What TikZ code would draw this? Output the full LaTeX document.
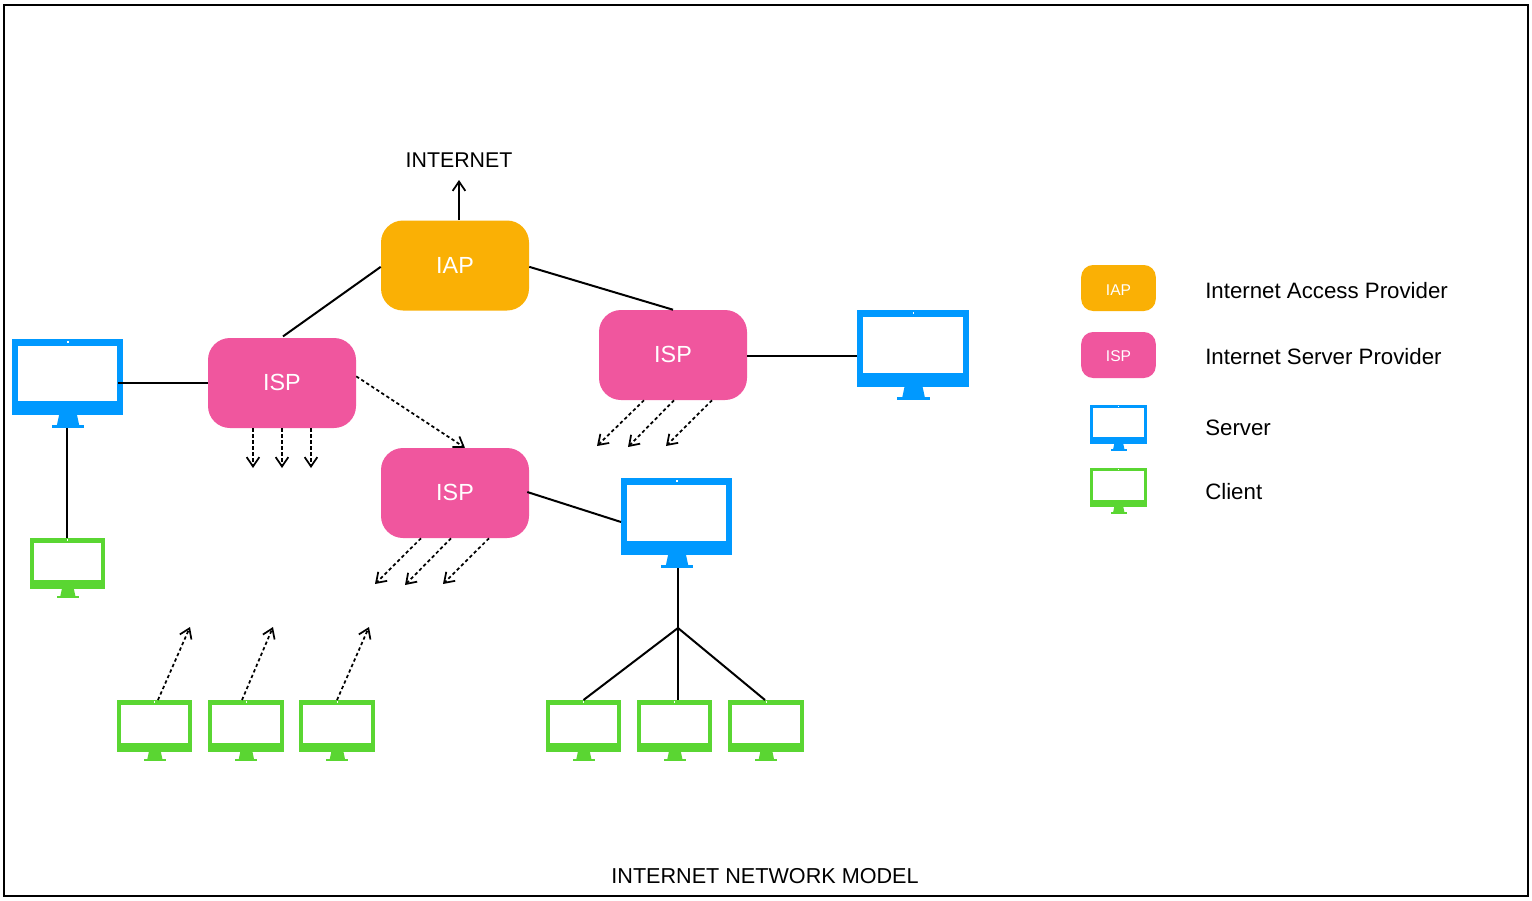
\documentclass[tikz,border=0pt]{standalone}
\usepackage{fontspec}
\setmainfont{Liberation Sans}
\usetikzlibrary{arrows.meta}
\definecolor{iapc}{HTML}{FAB005}
\definecolor{ispc}{HTML}{F0569E}
\definecolor{srvc}{HTML}{0099FF}
\definecolor{cltc}{HTML}{5AD632}
\tikzset{
  provider/.style={rectangle,rounded corners=16.5pt,minimum width=111pt,minimum height=67.5pt,inner sep=0pt,text=white,font=\fontsize{17.5}{20}\selectfont},
  keybox/.style={rectangle,rounded corners=9pt,minimum width=56pt,minimum height=34.5pt,inner sep=0pt,text=white,font=\fontsize{11.7}{14}\selectfont},
  caption/.style={inner sep=0pt,font=\fontsize{16}{18}\selectfont},
  titletext/.style={inner sep=0pt,font=\fontsize{16.2}{18}\selectfont},
  keytext/.style={inner sep=0pt,anchor=west,font=\fontsize{16.7}{20}\selectfont},
  iconbox/.style={rectangle,inner sep=0pt,outer sep=0pt},
  link/.style={line width=1.5pt,black},
  tipbarb/.style={-{Straight Barb[length=7pt,width=9.5pt,line width=1.3pt]}},
  uplink/.style={line width=1.5pt,black,tipbarb},
  flow/.style={line width=1.3pt,black,dash pattern=on 2.5pt off 2pt,tipbarb},
}
% name, left, top, width, height, colour
\newcommand{\monitoricon}[6]{%
  \node[iconbox,minimum width={#4*0.75pt},minimum height={#5*0.75pt}] (#1) at ({#2+#4/2},{#3+#5/2}) {};
  \begin{scope}[shift={(#2,#3)},x={(#4,0)},y={(0,#5)}]
    \fill[#6] (0,0) rectangle (1,.85);
    \fill[white] (.05,.075) rectangle (.95,.70);
    \fill[white] (.498,.02) rectangle (.512,.045);
    \fill[#6] (.425,.85) -- (.585,.85) -- (.605,.965) -- (.405,.965) -- cycle;
    \fill[#6] (.36,.965) rectangle (.65,1);
  \end{scope}}
\begin{document}
\begin{tikzpicture}[x=0.75pt,y=-0.75pt]
\useasboundingbox (0,0) rectangle (1532,900);
\fill[white] (0,0) rectangle (1532,900);
\node[rectangle,draw=black,line width=1.5pt,minimum width={1524*0.75pt},minimum height={891*0.75pt},inner sep=0pt] (frame) at (766,450.5) {};

% providers
\node[provider,fill=iapc] (iap) at (455,265.5) {\raisebox{0.75pt}{IAP}};
\node[provider,fill=ispc] (ispa) at (282,383) {\raisebox{1pt}{ISP}};
\node[provider,fill=ispc] (ispb) at (673,355) {\raisebox{0.75pt}{ISP}};
\node[provider,fill=ispc] (ispc) at (455,493) {\raisebox{1pt}{ISP}};

% servers
\monitoricon{srva}{12}{339}{111}{89}{srvc}
\monitoricon{srvb}{857}{310}{112}{90}{srvc}
\monitoricon{srvc}{621}{478}{111}{90}{srvc}

% clients
\monitoricon{clta}{30}{538}{75}{60}{cltc}
\monitoricon{cltb}{117}{700}{75}{61}{cltc}
\monitoricon{cltc}{208}{700}{76}{61}{cltc}
\monitoricon{cltd}{299}{700}{76}{61}{cltc}
\monitoricon{clte}{546}{700}{75}{61}{cltc}
\monitoricon{cltf}{637}{700}{75}{61}{cltc}
\monitoricon{cltg}{728}{700}{76}{61}{cltc}

% labels
\node[caption] (inet) at (459,160.5) {INTERNET};
\node[titletext] (title) at (765,876.5) {INTERNET NETWORK MODEL};

% free ends
\coordinate (hub) at (678,628);
\coordinate (up) at (459,180);
\coordinate (aa) at (253,468);
\coordinate (ab) at (282,468);
\coordinate (ac) at (311,468);
\coordinate (ba) at (597,446);
\coordinate (bb) at (628,447);
\coordinate (bc) at (666,446);
\coordinate (ca) at (375,584);
\coordinate (cb) at (405,585);
\coordinate (cc) at (443,584);
\coordinate (da) at (190,627);
\coordinate (db) at (273,627);
\coordinate (dc) at (369,627);

% solid links
\draw[uplink] (iap.north -| up) -- (up);
\draw[link] ([xshift=0.75pt,yshift=1pt]ispa.north) -- ([yshift=-1pt]iap.west);
\draw[link] ([yshift=-1pt]iap.east) -- (ispb.north);
\draw[link] ([xshift=-3.75pt]srva.east |- ispa.west) -- (ispa.west);
\draw[link] ([yshift=-0.75pt]ispb.east) -- ([yshift=-0.75pt]srvb.west);
\draw[link] ([xshift=-1.5pt,yshift=0.75pt]ispc.east) -- ([yshift=0.75pt]srvc.west);
\draw[link] ([xshift=-0.4pt]srva.south) -- ([xshift=-0.4pt]clta.north);
\draw[link] (srvc.south -| hub) -- (hub);
\draw[link] (hub) -- (clte.north);
\draw[link] (hub) -- (hub |- cltf.north);
\draw[link] (hub) -- ([xshift=-0.75pt]cltg.north);

% dashed flows
\draw[flow] ([yshift=5pt]ispa.east) -- ([xshift=7.5pt]ispc.north);
\draw[flow] (ispa.south -| aa) -- (aa);
\draw[flow] (ispa.south) -- (ab);
\draw[flow] (ispa.south -| ac) -- (ac);
\draw[flow] ([xshift=-21.75pt]ispb.south) -- (ba);
\draw[flow] ([xshift=0.75pt]ispb.south) -- (bb);
\draw[flow] ([xshift=29.25pt]ispb.south) -- (bc);
\draw[flow] ([xshift=-25.5pt]ispc.south) -- (ca);
\draw[flow] ([xshift=-3pt]ispc.south) -- (cb);
\draw[flow] ([xshift=25.5pt]ispc.south) -- (cc);
\draw[flow] ([xshift=2.6pt]cltb.north) -- (da);
\draw[flow] ([xshift=-3pt]cltc.north) -- (db);
\draw[flow] (cltd.north) -- (dc);

% legend
\node[keybox,fill=iapc] (keyiap) at (1118.5,288) {\raisebox{-5.7pt}[0pt][0pt]{IAP}};
\node[keybox,fill=ispc] (keyisp) at (1118.5,355) {\raisebox{-4.9pt}[0pt][0pt]{ISP}};
\monitoricon{keysrv}{1090}{405}{57}{46}{srvc}
\monitoricon{keyclt}{1090}{468}{57}{46}{cltc}
\node[keytext] (tiap) at (1205,291) {Internet Access Provider};
\node[keytext] (tisp) at (1205,357) {Internet Server Provider};
\node[keytext] (tsrv) at (1205,427.5) {Server};
\node[keytext] (tclt) at (1205,492) {Client};
\end{tikzpicture}
\end{document}
